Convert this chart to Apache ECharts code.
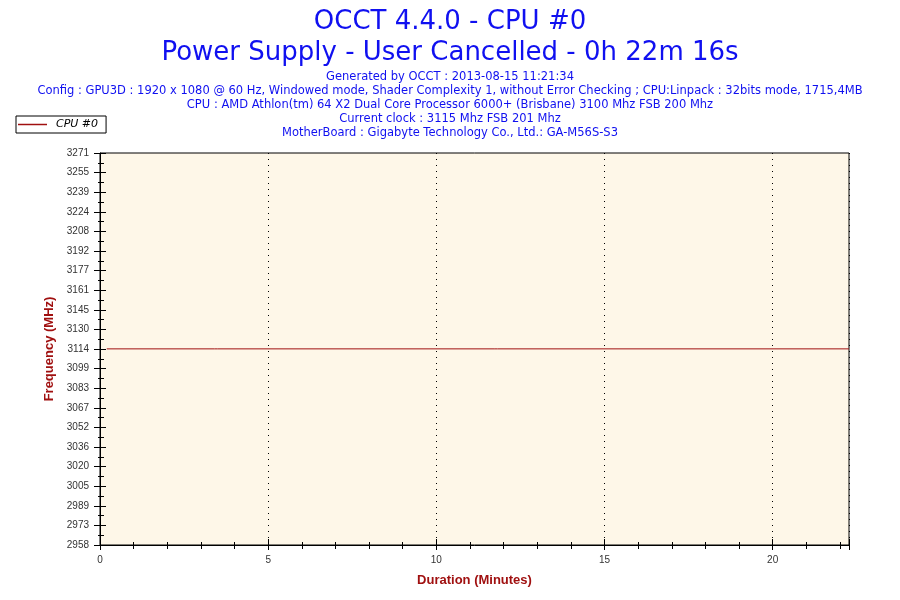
<!DOCTYPE html>
<html>
<head>
<meta charset="utf-8">
<script src="https://cdn.jsdelivr.net/npm/echarts@6/dist/echarts.min.js"></script>
<style>
html,body{margin:0;padding:0;background:#fff;}
#chart{width:900px;height:600px;}
</style>
</head>
<body>
<div id="chart"></div>
<script>
// ---- data ----
const titleLines = ["OCCT 4.4.0 - CPU #0", "Power Supply - User Cancelled - 0h 22m 16s"];
const infoLines = [
  "Generated by OCCT : 2013-08-15 11:21:34",
  "Config : GPU3D : 1920 x 1080 @ 60 Hz, Windowed mode, Shader Complexity 1, without Error Checking ; CPU:Linpack : 32bits mode, 1715,4MB",
  "CPU : AMD Athlon(tm) 64 X2 Dual Core Processor 6000+ (Brisbane) 3100 Mhz FSB 200 Mhz",
  "Current clock : 3115 Mhz FSB 201 Mhz",
  "MotherBoard : Gigabyte Technology Co., Ltd.: GA-M56S-S3"
];
const seriesName = "CPU #0";
const timeMinutes = [0.20, 3.40, 3.45, 3.50, 11.74, 11.78, 11.82, 22.27];
const freqMHz     = [3114.6, 3114.6, 3116, 3114.6, 3114.6, 3113.4, 3114.6, 3114.6];
const yTickLabels = ["2958","2973","2989","3005","3020","3036","3052","3067","3083","3099","3114",
                     "3130","3145","3161","3177","3192","3208","3224","3239","3255","3271"];
const xTicks = [0, 5, 10, 15, 20];
const yMin = 2958, yMax = 3271;
const xMin = 0, xMax = 22.27;

// ---- chart ----
const chart = echarts.init(document.getElementById('chart'));
const yStep = (yMax - yMin) / (yTickLabels.length - 1);
const blue = '#1010F0';
const darkRed = '#A01010';
const sansTitle = '"DejaVu Sans", Verdana, sans-serif';
const sansSmall = '"DejaVu Sans", Verdana, sans-serif';
const arial = '"Liberation Sans", Arial, sans-serif';

const titles = [];
titleLines.forEach((t, i) => titles.push({
  text: t, left: 'center', top: 5 + i * 31, padding: [4, 5],
  textStyle: {color: blue, fontSize: 26, fontWeight: 'normal', fontFamily: sansTitle}
}));
infoLines.forEach((t, i) => titles.push({
  text: t, left: 'center', top: 71 + i * 13.9, padding: 0,
  textStyle: {color: blue, fontSize: 11.5, fontWeight: 'normal', fontFamily: sansSmall}
}));

const yLabelFmt = v => {
  const idx = Math.round((v - yMin) / yStep);
  return yTickLabels[idx] !== undefined ? yTickLabels[idx] : '';
};

const option = {
  backgroundColor: '#ffffff',
  animation: false,
  title: titles,
  legend: {
    left: 16, top: 116, orient: 'horizontal',
    data: [seriesName],
    backgroundColor: '#ffffff',
    borderColor: '#000', borderWidth: 1, borderRadius: 0,
    padding: [3, 8, 3, 2],
    icon: 'rect', itemWidth: 29, itemHeight: 1.5, itemGap: 0,
    textStyle: {color: '#000', fontStyle: 'italic', fontSize: 11, fontFamily: sansSmall, padding: [0, 0, 0, 4]}
  },
  grid: {
    left: 100, right: 51, top: 153, bottom: 55,
    show: true, backgroundColor: '#FEF7E8', borderColor: '#000', borderWidth: 1
  },
  xAxis: [{
    type: 'value', min: xMin, max: xMax, interval: 5,
    name: 'Duration (Minutes)', nameLocation: 'middle', nameGap: 29,
    nameTextStyle: {color: darkRed, fontWeight: 'bold', fontSize: 13, fontFamily: arial},
    axisLine: {show: true, lineStyle: {color: '#000', width: 1}},
    axisTick: {show: true, inside: false, length: 5, lineStyle: {color: '#000'}},
    minorTick: {show: true, splitNumber: 5, length: 4, lineStyle: {color: '#000'}},
    axisLabel: {showMaxLabel: false, color: '#333', fontSize: 10, margin: 10, fontFamily: arial},
    splitLine: {show: true, lineStyle: {color: '#000', type: [1, 5], width: 1}}
  }, {
    type: 'value', min: xMin, max: xMax, interval: 5, position: 'bottom',
    axisLine: {show: false},
    axisTick: {show: true, inside: true, length: 6, lineStyle: {color: '#000'}},
    minorTick: {show: true, splitNumber: 5, length: 3, lineStyle: {color: '#000'}},
    axisLabel: {show: false}, splitLine: {show: false}
  }],
  yAxis: [{
    type: 'value', min: yMin, max: yMax, interval: yStep,
    name: 'Frequency (MHz)', nameLocation: 'middle', nameGap: 42,
    nameTextStyle: {color: darkRed, fontWeight: 'bold', fontSize: 13, fontFamily: arial},
    axisLine: {show: true, lineStyle: {color: '#000', width: 1}},
    axisTick: {show: true, inside: false, length: 6, lineStyle: {color: '#000'}},
    minorTick: {show: true, splitNumber: 2, length: 2, lineStyle: {color: '#000'}},
    axisLabel: {formatter: yLabelFmt, color: '#333', fontSize: 10, margin: 11, fontFamily: arial},
    splitLine: {show: false}
  }, {
    type: 'value', min: yMin, max: yMax, interval: yStep, position: 'left',
    axisLine: {show: false},
    axisTick: {show: true, inside: true, length: 6, lineStyle: {color: '#000'}},
    minorTick: {show: true, splitNumber: 2, length: 4, lineStyle: {color: '#000'}},
    axisLabel: {show: false}, splitLine: {show: false}
  }],
  series: [{
    name: seriesName, type: 'line', xAxisIndex: 0, yAxisIndex: 0,
    data: timeMinutes.map((t, i) => [t, freqMHz[i]]),
    symbol: 'none', showSymbol: false,
    lineStyle: {color: darkRed, width: 1},
    itemStyle: {color: darkRed}
  }]
};
chart.setOption(option);
</script>
</body>
</html>
